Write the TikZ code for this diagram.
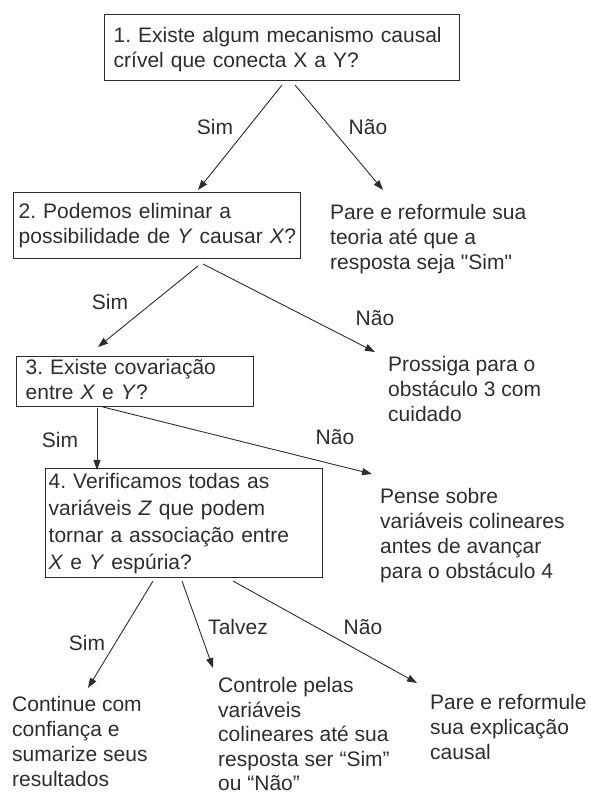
\documentclass[tikz,border=0pt]{standalone}
\usepackage{fontspec}
\setmainfont{Liberation Sans}
\usetikzlibrary{arrows.meta}
\definecolor{ink}{RGB}{45,45,45}
\frenchspacing
\begin{document}
\begin{tikzpicture}[x=1pt,y=-1pt,
    every node/.style={font=\fontsize{21}{25}\selectfont, text=ink},
    qbox/.style={draw=ink, line width=1.4pt, anchor=north west, align=left, inner ysep=0pt},
    ans/.style={anchor=north west, align=left, inner sep=0pt},
    lbl/.style={inner sep=1pt},
    arr/.style={draw=ink, line width=0.9pt, -{Triangle[length=10pt,width=7pt]}}]
  \useasboundingbox (0,0) rectangle (591,797);
  % questions
  \node[qbox, inner xsep=9pt, text width=337pt, minimum height=66pt] (q1) at (104,14)
    {\rule{0pt}{22pt}\mbox{1. Existe algum mecanismo causal}\\ \mbox{crível que conecta X a Y?}\strut};
  \node[qbox, inner xsep=5pt, text width=277pt, minimum height=66pt] (q2) at (13,192)
    {\strut\mbox{2. Podemos eliminar a}\\ \mbox{possibilidade de \textit{Y} causar \textit{X}?}\strut};
  \node[qbox, inner xsep=9pt, text width=219pt, minimum height=50pt] (q3) at (16,356)
    {\strut\mbox{3. Existe covariação}\\ \mbox{entre \textit{X} e \textit{Y}?}\strut};
  \node[qbox, inner xsep=3pt, text width=271pt, minimum height=109pt,
        font=\fontsize{21}{27}\selectfont] (q4) at (45,468)
    {\strut\mbox{4. Verificamos todas as}\\ \mbox{variáveis \textit{Z} que podem}\\
     \mbox{tornar a associação entre}\\ \mbox{\textit{X} e \textit{Y} espúria?}\strut};
  % outcomes
  \node[ans] (r1) at (330,201.5) {\strut Pare e reformule sua\\ teoria até que a\\ resposta seja \textquotedbl Sim\textquotedbl};
  \node[ans] (r2) at (388,353.5) {\strut Prossiga para o\\ obstáculo 3 com\\ cuidado};
  \node[ans] (r3) at (380,485.5) {\strut Pense sobre\\ variáveis colineares\\ antes de avançar\\ para o obstáculo 4};
  \node[ans] (r4) at (12,693.5) {\strut Continue com\\ confiança e\\ sumarize seus\\ resultados};
  \node[ans, font=\fontsize{21}{24.5}\selectfont] (r5) at (218,675.5)
    {\strut Controle pelas\\ variáveis\\ colineares até sua\\ resposta ser “Sim”\\ ou “Não”};
  \node[ans] (r6) at (430,691.5) {\strut Pare e reformule\\ sua explicação\\ causal};
  % arrow ends
  \coordinate (q1s) at (282,85);  \coordinate (q1se) at (198,190);
  \coordinate (q1n) at (295,85);  \coordinate (q1ne) at (383,190);
  \coordinate (q2s) at (198,266); \coordinate (q2se) at (98,347);
  \coordinate (q2n) at (203,264); \coordinate (q2ne) at (375,352);
  \coordinate (q3s) at (97,408);  \coordinate (q3se) at (97,470);
  \coordinate (q3n) at (103,407); \coordinate (q3ne) at (372,474);
  \coordinate (q4s) at (153,581); \coordinate (q4se) at (88,688);
  \coordinate (q4t) at (182,581); \coordinate (q4te) at (213,668);
  \coordinate (q4n) at (233,581); \coordinate (q4ne) at (417,683);
  \begin{scope}[arr]
    \draw (q1s) -- (q1se);
    \draw (q1n) -- (q1ne);
    \draw (q2s) -- (q2se);
    \draw (q2n) -- (q2ne);
    \draw (q3s) -- (q3se);
    \draw (q3n) -- (q3ne);
    \draw (q4s) -- (q4se);
    \draw (q4t) -- (q4te);
    \draw (q4n) -- (q4ne);
  \end{scope}
  % answers on the arrows
  \node[lbl] (l1s) at (215,127) {Sim};
  \node[lbl] (l1n) at (368,127) {Não};
  \node[lbl] (l2s) at (110,302) {Sim};
  \node[lbl] (l2n) at (375,318) {Não};
  \node[lbl] (l3s) at (60,440) {Sim};
  \node[lbl] (l3n) at (335,437) {Não};
  \node[lbl] (l4s) at (87,643) {Sim};
  \node[lbl] (l4t) at (238,627) {Talvez};
  \node[lbl] (l4n) at (363,627) {Não};
\end{tikzpicture}
\end{document}
